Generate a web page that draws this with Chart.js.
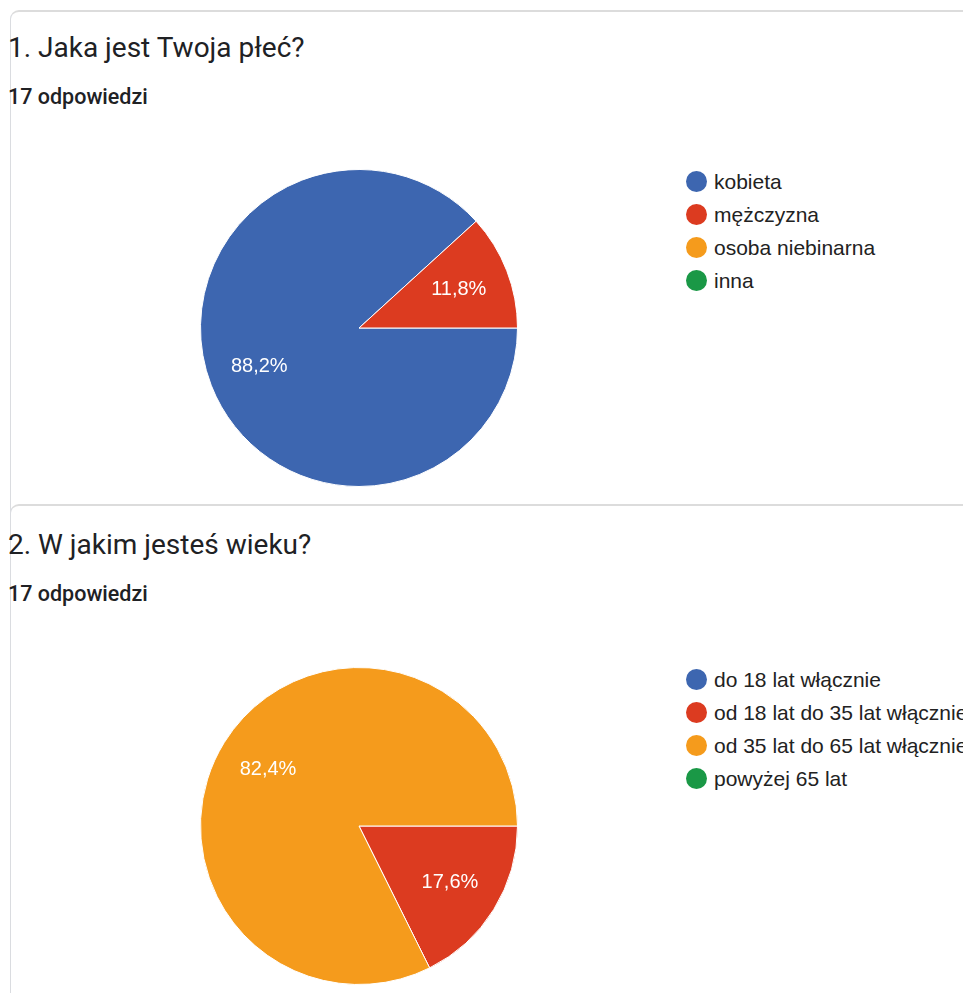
<!DOCTYPE html>
<html lang="pl">
<head>
<meta charset="utf-8">
<script src="https://cdn.jsdelivr.net/npm/chart.js@4.4.1/dist/chart.umd.min.js"></script>
<style>
  html, body { margin: 0; padding: 0; background: #fff; }
  body { width: 963px; height: 993px; position: relative; overflow: hidden; font-family: Roboto, "Liberation Sans", sans-serif; }
  .card { position: absolute; left: 10px; width: 1000px; border: 1px solid #dadce0; border-top: 2px solid #dcdcdc; border-radius: 9px; background: #fff; }
  .title { position: absolute; left: 8px; font-size: 28px; color: #202124; white-space: nowrap; }
  .count { position: absolute; left: 8px; font-size: 21.5px; font-weight: 500; color: #202124; white-space: nowrap; }
  .pie { position: absolute; width: 318px; height: 318px; }
  .legend { position: absolute; left: 686px; font-family: "Liberation Sans", Arial, sans-serif; font-size: 21px; color: #222; }
  .legend div { height: 33px; line-height: 33px; white-space: nowrap; display: flex; align-items: center; }
  .legend span.dot { display: inline-block; width: 21px; height: 21px; border-radius: 50%; margin-right: 7px; }
</style>
</head>
<body>
<div class="card" style="top:10px; height:520px;"></div>
<div class="card" style="top:504px; height:600px;"></div>

<div class="title" style="top:31px;">1. Jaka jest Twoja płeć?</div>
<div class="count" style="top:84px;">17 odpowiedzi</div>
<div class="pie" style="left:200px; top:169px;"><canvas id="chart1"></canvas></div>
<div class="legend" id="legend1" style="top:165px;"></div>

<div class="title" style="top:528px;">2. W jakim jesteś wieku?</div>
<div class="count" style="top:581px;">17 odpowiedzi</div>
<div class="pie" style="left:200px; top:667px;"><canvas id="chart2"></canvas></div>
<div class="legend" id="legend2" style="top:663px;"></div>

<script>
const colors = ["#3d66b0", "#dc3b20", "#f59b1c", "#1a9846"];

const genderLabels = ["kobieta", "mężczyzna", "osoba niebinarna", "inna"];
const genderCounts = [15, 2, 0, 0];

const ageLabels = ["do 18 lat włącznie", "od 18 lat do 35 lat włącznie", "od 35 lat do 65 lat włącznie", "powyżej 65 lat"];
const ageCounts = [0, 3, 14, 0];

// procenty na kawałkach
const sliceLabels = {
  id: "sliceLabels",
  afterDatasetsDraw(chart) {
    const ctx = chart.ctx;
    const data = chart.data.datasets[0].data;
    const total = data.reduce((a, b) => a + b, 0);
    ctx.save();
    ctx.font = "20px 'Liberation Sans', Arial, sans-serif";
    ctx.fillStyle = "#fff";
    ctx.textAlign = "center";
    ctx.textBaseline = "middle";
    chart.getDatasetMeta(0).data.forEach((arc, i) => {
      if (!data[i]) return;
      const p = arc.getProps(["x", "y", "startAngle", "endAngle", "outerRadius"], true);
      const mid = (p.startAngle + p.endAngle) / 2;
      const r = p.outerRadius * 0.675;
      const pct = (data[i] / total * 100).toFixed(1).replace(".", ",") + "%";
      ctx.fillText(pct, p.x + Math.cos(mid) * r, p.y + Math.sin(mid) * r);
    });
    ctx.restore();
  }
};

function makePie(id, labels, values) {
  new Chart(document.getElementById(id), {
    type: "pie",
    data: {
      labels: labels,
      datasets: [{
        data: values,
        backgroundColor: colors,
        borderColor: "#fff",
        borderWidth: 1
      }]
    },
    options: {
      responsive: true,
      maintainAspectRatio: false,
      animation: false,
      rotation: 90,
      layout: { padding: 0 },
      plugins: { legend: { display: false }, tooltip: { enabled: false } }
    },
    plugins: [sliceLabels]
  });
}

function makeLegend(id, labels) {
  const box = document.getElementById(id);
  labels.forEach((l, i) => {
    const row = document.createElement("div");
    row.innerHTML = `<span class="dot" style="background:${colors[i]}"></span>${l}`;
    box.appendChild(row);
  });
}

makePie("chart1", genderLabels, genderCounts);
makePie("chart2", ageLabels, ageCounts);
makeLegend("legend1", genderLabels);
makeLegend("legend2", ageLabels);
</script>
</body>
</html>
